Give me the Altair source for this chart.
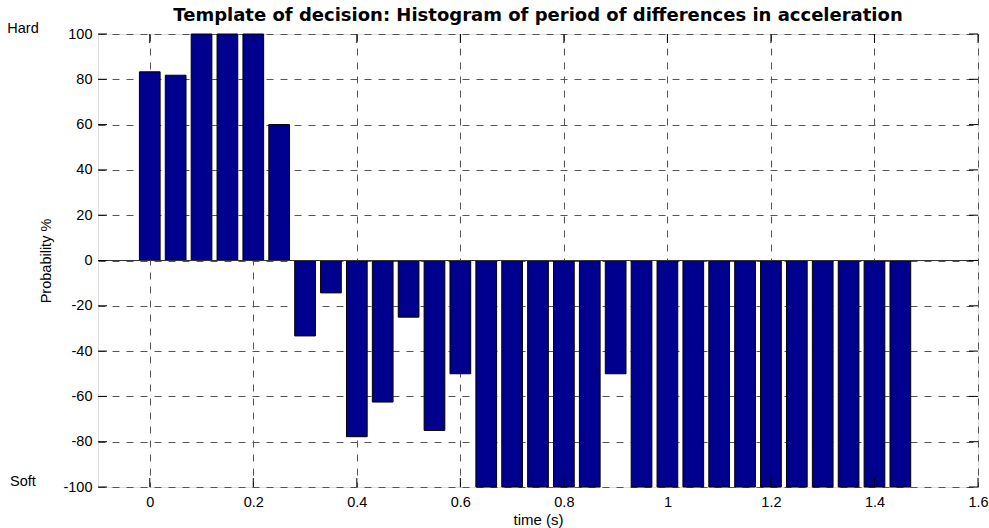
import altair as alt
import pandas as pd

# ---- data ----
times = [0.00, 0.05, 0.10, 0.15, 0.20, 0.25, 0.30, 0.35, 0.40, 0.45,
         0.50, 0.55, 0.60, 0.65, 0.70, 0.75, 0.80, 0.85, 0.90, 0.95,
         1.00, 1.05, 1.10, 1.15, 1.20, 1.25, 1.30, 1.35, 1.40, 1.45]
probability = [83.3, 81.8, 100, 100, 100, 60, -33.3, -14.3, -77.8, -62.5,
               -25, -75, -50, -100, -100, -100, -100, -100, -50, -100,
               -100, -100, -100, -100, -100, -100, -100, -100, -100, -100]
x_ticks = [0, 0.2, 0.4, 0.6, 0.8, 1.0, 1.2, 1.4, 1.6]
y_ticks = [-100, -80, -60, -40, -20, 0, 20, 40, 60, 80, 100]
side_labels = ["Hard", "Soft"]
side_label_y = [100, -100]
title_text = "Template of decision: Histogram of period of differences in acceleration"

W, H = 880, 453
FONT = "Liberation Sans"
BAR_COLOR = "#00008F"
GRID_COLOR = "#555555"

df = pd.DataFrame({"t": times, "p": probability})
xt = pd.DataFrame({"v": x_ticks})
yt = pd.DataFrame({"v": y_ticks})
side = pd.DataFrame({"label": side_labels, "y": side_label_y})

xscale = alt.Scale(domain=[-0.1, 1.6], nice=False, zero=False)
yscale = alt.Scale(domain=[-100, 100], nice=False)

xaxis = alt.Axis(values=x_ticks, grid=True, gridDash=[7, 7], gridColor=GRID_COLOR,
                 gridWidth=1, gridOpacity=1, domain=False, ticks=False,
                 labelExpr="'' + datum.value",
                 labelPadding=8, labelFontSize=14.5, labelFont=FONT, labelColor="black",
                 title="time (s)", titleFont=FONT, titleFontSize=15, titleFontWeight="normal",
                 titleColor="black", titleX=W / 2, titleY=32, titleBaseline="middle",
                 titleAlign="center", labelFlush=False, labelOverlap=False)
yaxis = alt.Axis(values=y_ticks, grid=True, gridDash=[7, 7], gridColor=GRID_COLOR,
                 gridWidth=1, gridOpacity=1, domain=False, ticks=False,
                 labelExpr="'' + datum.value",
                 labelPadding=6, labelFontSize=14.5, labelFont=FONT, labelColor="black",
                 title="Probability %", titleFont=FONT, titleFontSize=14.5,
                 titleFontWeight="normal", titleColor="black", titleX=-52, titleY=H / 2,
                 titleBaseline="middle", titleAlign="center", titleAngle=270,
                 labelFlush=False, labelOverlap=False)

bars = alt.Chart(df).transform_calculate(
    x0="datum.t - 0.02", x1="datum.t + 0.02", zero="0"
).mark_bar(color=BAR_COLOR, stroke="black", strokeWidth=1).encode(
    x=alt.X("x0:Q", scale=xscale, axis=xaxis),
    x2="x1:Q",
    y=alt.Y("p:Q", scale=yscale, axis=yaxis),
    y2="zero:Q",
)

baseline = alt.Chart(pd.DataFrame({"v": [0]})).mark_rule(color="#333333", strokeWidth=1).encode(
    y=alt.Y("v:Q", scale=yscale)
)

tick_bottom = alt.Chart(xt).mark_rule(color="black", strokeWidth=1).encode(
    x=alt.X("v:Q", scale=xscale), y=alt.value(H), y2=alt.value(H - 9))
tick_top = alt.Chart(xt).mark_rule(color="black", strokeWidth=1).encode(
    x=alt.X("v:Q", scale=xscale), y=alt.value(0), y2=alt.value(9))
tick_left = alt.Chart(yt).mark_rule(color="black", strokeWidth=1).encode(
    y=alt.Y("v:Q", scale=yscale), x=alt.value(0), x2=alt.value(9))
tick_right = alt.Chart(yt).mark_rule(color="black", strokeWidth=1).encode(
    y=alt.Y("v:Q", scale=yscale), x=alt.value(W), x2=alt.value(W - 9))

side_text = alt.Chart(side).mark_text(font=FONT, fontSize=14.5, color="black",
                                      align="center", baseline="middle", dy=-5).encode(
    y=alt.Y("y:Q", scale=yscale), x=alt.value(-75), text="label:N")

chart = alt.layer(bars, baseline, tick_bottom, tick_top, tick_left, tick_right, side_text).properties(
    width=W, height=H,
    title=alt.Title(title_text, font="DejaVu Sans", fontSize=18, fontWeight="bold", color="black",
                    anchor="middle", frame="group", offset=-4),
    autosize=alt.AutoSizeParams(type="none"),
    padding={"left": 98, "top": 34, "right": 11, "bottom": 41},
).configure_view(stroke="black", strokeWidth=1).configure(background="white")

chart.save("out.html", embed_options={"renderer": "svg", "actions": False})
